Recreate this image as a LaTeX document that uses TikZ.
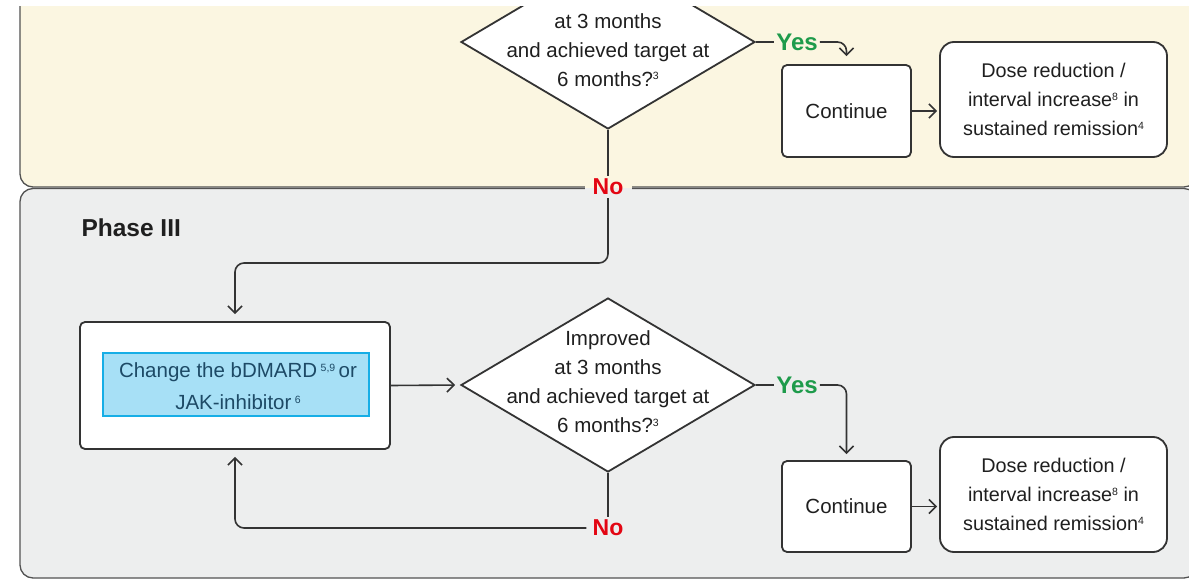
\documentclass[tikz,border=0pt]{standalone}
\usepackage{fontspec}
\setmainfont{Liberation Sans}
\usetikzlibrary{shapes.geometric,arrows.meta}

\definecolor{phaseyellow}{HTML}{FBF6E1}
\definecolor{phasegray}{HTML}{EDEEEE}
\definecolor{frame}{HTML}{333333}
\definecolor{yesgreen}{HTML}{1E9B4B}
\definecolor{nored}{HTML}{E30613}
\definecolor{boxblue}{HTML}{A7E0F6}
\definecolor{boxcyan}{HTML}{16AEE6}
\definecolor{textblue}{HTML}{1D4A66}

% small reference numbers
\newcommand{\refnum}[1]{\raisebox{6.5pt}{\fontsize{10.5}{11}\selectfont #1}}

\begin{document}
\begin{tikzpicture}[x=1pt,y=-1pt,
  every node/.style={font=\fontsize{20.5}{29}\selectfont, text=black!88},
  panel/.style={draw=frame!85, line width=1.3pt, rounded corners=13pt},
  decision/.style={diamond, draw=frame, fill=white, line width=1.8pt,
    inner sep=0pt, minimum width=294pt, minimum height=174pt},
  stepbox/.style={draw=frame, fill=white, line width=1.8pt,
    rounded corners=5pt, align=center, inner sep=0pt},
  outcome/.style={stepbox, rounded corners=14pt,
    minimum width=227pt, minimum height=115pt,
    font=\fontsize{19.8}{29}\selectfont},
  yeslabel/.style={font=\fontsize{24}{26}\bfseries\selectfont,
    text=yesgreen, inner xsep=2pt, inner ysep=2pt},
  nolabel/.style={font=\fontsize{23}{26}\bfseries\selectfont,
    text=nored, inner xsep=6pt, inner ysep=3pt},
  flow/.style={draw=frame, line width=1.6pt, rounded corners=9pt},
  arrowtip/.style={-{Straight Barb[length=7pt,width=14pt]}}
]
\useasboundingbox (0,0) rectangle (1189,580);
\begin{scope}
\clip (0,7) rectangle (1189,580);

% phase panels
\draw[panel, fill=phaseyellow] (20,-40) rectangle (1197,187);
\draw[panel, fill=phasegray] (20,188.5) rectangle (1197,578);
% opening in the panel border behind the first "No"
\fill[phaseyellow] (585,175) rectangle (632,187.6);
\fill[phasegray] (585,187.6) rectangle (632,200);

\node[anchor=west, font=\fontsize{24.5}{26}\bfseries\selectfont] (ph) at (78,228) {Phase III};

% decision of the previous phase
\node[decision] (d1) at (608,42) {};
\node[align=center] (q1) at (608,50) {at 3 months\\and achieved target at\\6 months?\refnum{3}};
\node[yeslabel] (y1) at (797,42) {Yes};
\node[stepbox, minimum width=129pt, minimum height=92pt] (c1) at (846.5,111) {Continue};
\node[outcome] (r1) at (1053.5,99.5) {Dose reduction /\\interval increase\refnum{8} in\\sustained remission\refnum{4}};
\node[nolabel] (n1) at (608,187) {No};
\coordinate (bend1) at (608,263);

% phase III
\node[stepbox, minimum width=310pt, minimum height=127pt] (ch) at (235,385.5) {};
\node[draw=boxcyan, fill=boxblue, line width=2pt, minimum width=266pt, minimum height=63pt]
  (bd) at (236,384) {};
\node[align=center, text=textblue, font=\fontsize{20.5}{32}\selectfont] (bdt) at (238,386.5)
  {Change the bDMARD\,\refnum{5,9}\,or\\JAK-inhibitor\,\refnum{6}};
\node[decision] (d2) at (608,385) {};
\node[align=center] (q2) at (608,382) {Improved\\at 3 months\\and achieved target at\\6 months?\refnum{3}};
\node[yeslabel] (y2) at (797,385) {Yes};
\node[stepbox, minimum width=129pt, minimum height=91pt] (c2) at (846.5,506.5) {Continue};
\node[outcome] (r2) at (1053.5,494.5) {Dose reduction /\\interval increase\refnum{8} in\\sustained remission\refnum{4}};
\node[nolabel] (n2) at (608,528) {No};

% connectors
\draw[flow] (d1.east) -- (y1.west);
\draw[flow, arrowtip, shorten >=8pt] (y1.east) -| (c1.north);
\draw[flow, arrowtip, shorten >=2pt] (c1.east) -- (c1.east -| r1.west);
\draw[flow] (d1.south) -- (n1.north);
\draw[flow, arrowtip, shorten >=7pt] (n1.south) -- (bend1) -| (ch.north);
\draw[flow, arrowtip, shorten >=5pt] (ch.east) -- (d2.west);
\draw[flow] (d2.east) -- (y2.west);
\draw[flow, arrowtip, shorten >=6pt] (y2.east) -| (c2.north);
\draw[flow, arrowtip, shorten >=2pt] (c2.east) -- (c2.east -| r2.west);
\draw[flow] (d2.south) -- (n2.north);
\draw[flow, arrowtip, shorten >=7pt] (n2.west) -| (ch.south);
\end{scope}
\end{tikzpicture}
\end{document}
